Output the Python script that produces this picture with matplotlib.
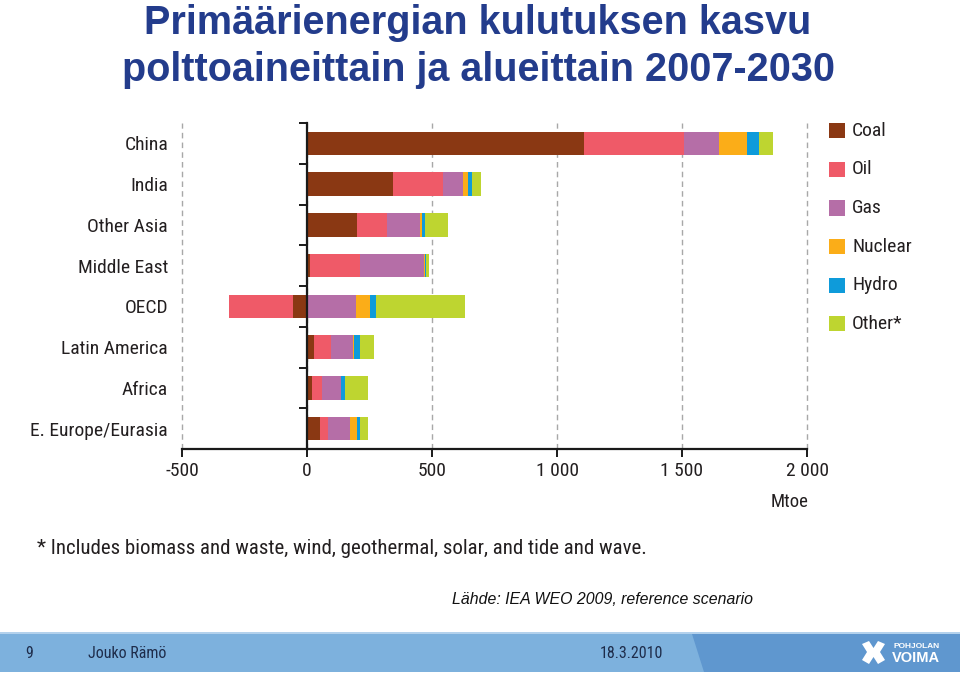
import numpy as np
import matplotlib
matplotlib.use("Agg")
import matplotlib.pyplot as plt
from matplotlib.patches import Rectangle, Polygon
from matplotlib import font_manager
from matplotlib.font_manager import FontProperties

# ---------------- data ----------------
regions = ["China", "India", "Other Asia", "Middle East", "OECD",
           "Latin America", "Africa", "E. Europe/Eurasia"]
fuels = ["Coal", "Oil", "Gas", "Nuclear", "Hydro", "Other*"]
coal    = [1107, 345, 200,  13,  -55, 28, 21, 52]
oil     = [ 402, 200, 121, 198, -256, 67, 40, 33]
gas     = [ 139,  78, 131, 258,  196, 89, 74, 86]
nuclear = [ 111,  22,   7,   3,   56,  5,  2, 30]
hydro   = [  49,  13,  11,   3,   24, 23, 15, 11]
other   = [  55,  36,  92,  13,  356, 55, 92, 31]
xticks = [-500, 0, 500, 1000, 1500, 2000]
xtick_labels = ["-500", "0", "500", "1 000", "1 500", "2 000"]

colors = ["#8A3813", "#EF5A68", "#B56EA7", "#FBAD18", "#0E9BDA", "#BED530"]

# ---------------- fonts ----------------
SANS = ["Liberation Sans", "DejaVu Sans"]
plt.rcParams["font.family"] = SANS


def find_condensed():
    cands = []
    for f in font_manager.fontManager.ttflist:
        nm = f.name.lower()
        fn = f.fname.lower()
        st = str(f.stretch).lower()
        narrow = ("narrow" in nm or "condensed" in nm or "narrow" in fn
                  or "condensed" in fn or st in ("condensed", "semi-condensed", "extra-condensed"))
        if not narrow:
            continue
        if f.weight not in (400, "normal", "regular", "book") or f.style != "normal":
            continue
        if "semi" in fn or "extra" in fn or "light" in fn or "oblique" in fn or "italic" in fn:
            continue
        if "liberation" in fn:
            score = 0
        elif "roboto" in fn:
            score = 1
        elif "dejavusans" in fn and "mono" not in fn:
            score = 2
        elif "open" in fn:
            score = 3
        else:
            score = 5
        cands.append((score, f.fname))
    cands.sort()
    return cands[0][1] if cands else None


cond_file = find_condensed()
if cond_file:
    def NF(size):
        return FontProperties(fname=cond_file, size=size)
else:
    def NF(size):
        return FontProperties(family="Liberation Sans", size=size * 0.84)

W, H = 960, 674
fig = plt.figure(figsize=(W / 100, H / 100), dpi=100)
fig.patch.set_facecolor("white")


def fx(px):
    return px / W


def fy(py):
    return 1 - py / H


ax = fig.add_axes([fx(182), fy(449), fx(807) - fx(182), fy(123) - fy(449)])

series = [coal, oil, gas, nuclear, hydro, other]
data = np.array(series, dtype=float)
ypos = np.arange(len(regions))
pos_cum = np.zeros(len(regions))
neg_cum = np.zeros(len(regions))
for vals, col, name in zip(data, colors, fuels):
    left = np.where(vals >= 0, pos_cum, neg_cum)
    ax.barh(ypos, vals, left=left, height=0.58, color=col, label=name,
            edgecolor="none", zorder=3)
    pos_cum = pos_cum + np.where(vals >= 0, vals, 0)
    neg_cum = neg_cum + np.where(vals < 0, vals, 0)

ax.set_xlim(-500, 2000)
ax.set_ylim(len(regions) - 0.5, -0.5)

# spines
for s in ["top", "right"]:
    ax.spines[s].set_visible(False)
ax.spines["left"].set_position(("data", 0))
ax.spines["left"].set_linewidth(1.6)
ax.spines["left"].set_color("#1a1a1a")
ax.spines["bottom"].set_linewidth(1.6)
ax.spines["bottom"].set_color("#1a1a1a")
ax.spines["left"].set_zorder(5)

# x axis + grid
ax.set_xticks(xticks)
ax.set_xticklabels(xtick_labels, color="#231F20")
for lab in ax.get_xticklabels():
    lab.set_fontproperties(NF(14))
ax.xaxis.grid(True, linestyle=(0, (4, 3)), color="#A8A8A8", linewidth=1.0)
for gl in ax.get_xgridlines():
    gl.set_clip_on(False)
ax.set_axisbelow(True)
ax.tick_params(axis="x", direction="out", length=5.5, width=1.4, color="#1a1a1a", pad=4)

# y axis
ax.set_yticks(ypos)
ax.set_yticklabels(regions, color="#231F20")
for lab in ax.get_yticklabels():
    lab.set_fontproperties(NF(14))
ax.set_yticks(np.arange(-0.5, len(regions) - 1, 1.0), minor=True)
ax.tick_params(axis="y", which="major", length=0, pad=100)
ax.tick_params(axis="y", which="minor", direction="out", length=6, width=1.4, color="#1a1a1a")

# unit label
fig.text(fx(790), fy(502), "Mtoe", ha="center", va="center",
         fontproperties=NF(13.5), color="#231F20")

# legend (manual)
row0, drow = 130.8, 38.6
for i, (name, col) in enumerate(zip(fuels, colors)):
    cy = row0 + i * drow
    fig.patches.append(Rectangle((fx(829), fy(cy + 7.5)), fx(16), 15 / H,
                                 transform=fig.transFigure, facecolor=col,
                                 edgecolor="none"))
    fig.text(fx(852), fy(cy), name, ha="left", va="center",
             fontproperties=NF(14), color="#231F20")

# title
title_col = "#233C8C"
fig.text(fx(478), fy(34), "Primäärienergian kulutuksen kasvu", ha="center",
         va="baseline", fontsize=28.5, fontweight="bold", color=title_col)
fig.text(fx(478), fy(81), "polttoaineittain ja alueittain 2007-2030", ha="center",
         va="baseline", fontsize=28.5, fontweight="bold", color=title_col)

# footnote and source
fig.text(fx(37), fy(548), "* Includes biomass and waste, wind, geothermal, solar, and tide and wave.",
         ha="left", va="center", fontproperties=NF(15), color="#231F20")
fig.text(fx(452), fy(604), "Lähde: IEA WEO 2009, reference scenario", ha="left",
         va="baseline", fontsize=11.4, style="italic", color="#111111")

# footer band
band_top, band_bot = 634, 672
fig.patches.append(Rectangle((0, fy(band_bot)), 1, (band_bot - band_top) / H,
                             transform=fig.transFigure, facecolor="#7DB1DD",
                             edgecolor="none"))
fig.patches.append(Polygon([(fx(692), fy(band_top)), (1, fy(band_top)),
                            (1, fy(band_bot)), (fx(704), fy(band_bot))],
                           closed=True, transform=fig.transFigure,
                           facecolor="#5F97CF", edgecolor="none"))
fig.patches.append(Rectangle((0, fy(band_top)), 1, 2 / H,
                             transform=fig.transFigure, facecolor="#B3D1EC",
                             edgecolor="none"))
foot_col = "#1E2C4A"
fig.text(fx(25), fy(654), "9", ha="left", va="center", fontproperties=NF(11.5),
         color=foot_col)
fig.text(fx(88), fy(654), "Jouko Rämö", ha="left", va="center", fontproperties=NF(11.5),
         color=foot_col)
fig.text(fx(600), fy(654), "18.3.2010", ha="left", va="center", fontproperties=NF(11.5),
         color=foot_col)

# logo
icon = [(862, 644), (869, 641), (873.5, 648), (878, 641), (885, 644),
        (880, 652), (885, 660), (878, 664), (873.5, 657), (869, 664),
        (862, 660), (867, 652)]
fig.patches.append(Polygon([(fx(x), fy(y)) for x, y in icon], closed=True,
                           transform=fig.transFigure, facecolor="white",
                           edgecolor="none"))
fig.text(fx(893), fy(646), "POHJOLAN", ha="left", va="center",
         fontsize=6, fontweight="bold", color="white")
fig.text(fx(892), fy(658), "VOIMA", ha="left", va="center",
         fontsize=10.5, fontweight="bold", color="white")

fig.savefig("out.png", dpi=100, facecolor="white")
